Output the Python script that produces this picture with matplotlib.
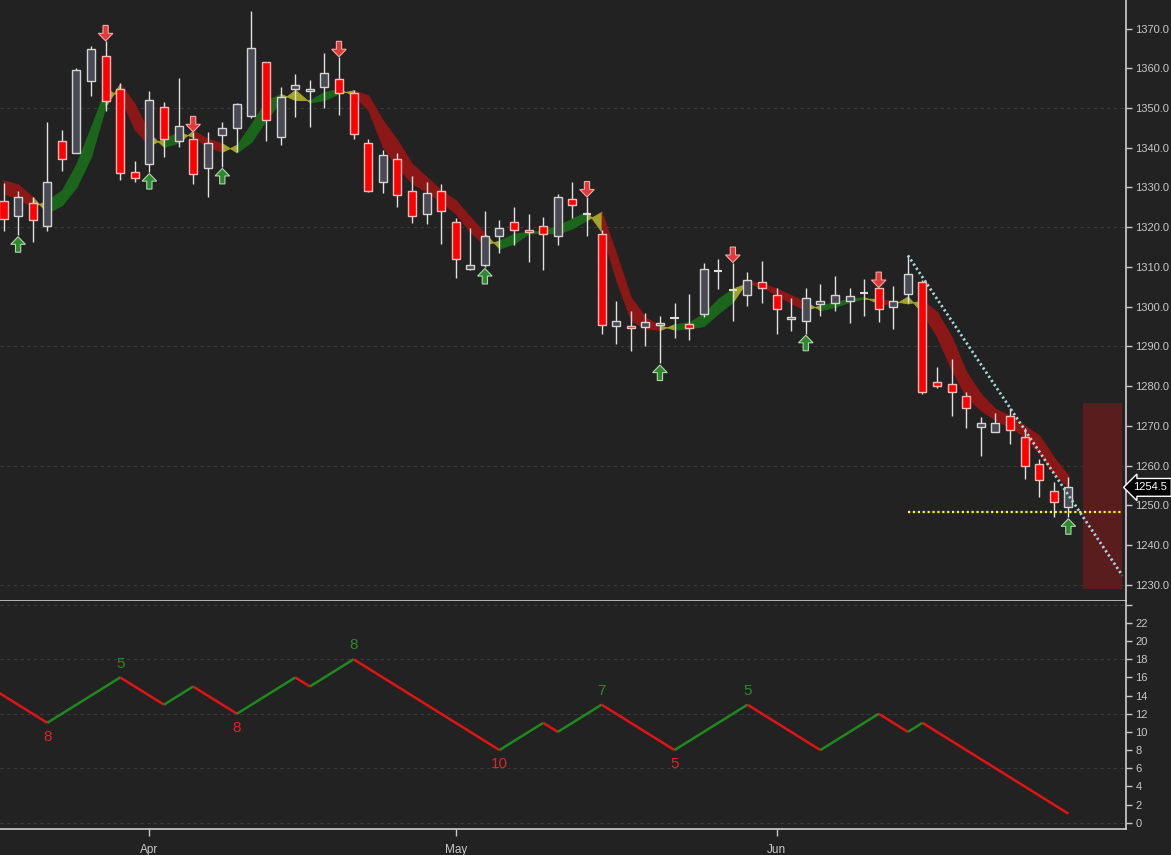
import matplotlib.pyplot as plt
import matplotlib.transforms as mtransforms
from matplotlib.patches import Rectangle, FancyArrow

plt.rcParams['font.family'] = ['Liberation Sans', 'DejaVu Sans']

# daily OHLC, one entry per bar
opens = [1326.5, 1322.7, 1326.2, 1320.2, 1341.6, 1338.7, 1356.7, 1363.2, 1354.7, 1333.8,
         1335.8, 1350.2, 1341.8, 1342.1, 1334.8, 1343.1, 1344.9, 1348.0, 1361.5, 1342.6,
         1354.9, 1354.3, 1355.4, 1357.4, 1353.7, 1341.3, 1331.3, 1337.1, 1329.2, 1323.2,
         1329.0, 1321.2, 1309.6, 1310.6, 1317.9, 1321.4, 1319.2, 1320.3, 1317.9, 1327.0,
         1323.3, 1318.2, 1295.2, 1295.2, 1295.0, 1295.5, 1297.2, 1295.7, 1298.2, 1309.0,
         1304.1, 1303.0, 1306.1, 1303.0, 1296.8, 1296.5, 1300.7, 1301.0, 1301.3, 1303.4,
         1304.6, 1299.8, 1303.3, 1306.1, 1281.0, 1280.5, 1277.4, 1269.8, 1268.4, 1272.4,
         1267.2, 1260.4, 1253.6, 1249.6]
highs = [1331.2, 1329.1, 1327.6, 1346.4, 1344.4, 1360.0, 1365.6, 1366.9, 1356.2, 1336.6,
         1354.3, 1351.6, 1357.5, 1344.0, 1343.9, 1346.5, 1351.3, 1374.4, 1361.6, 1355.2,
         1358.5, 1357.0, 1363.9, 1362.9, 1354.5, 1342.3, 1339.4, 1338.6, 1332.8, 1331.3,
         1330.8, 1322.2, 1319.7, 1324.0, 1321.8, 1325.0, 1323.4, 1322.6, 1328.3, 1331.3,
         1327.6, 1319.2, 1301.4, 1298.8, 1298.5, 1297.6, 1300.8, 1303.3, 1311.1, 1312.1,
         1311.1, 1308.7, 1311.4, 1304.6, 1302.1, 1304.6, 1305.8, 1307.7, 1304.6, 1306.9,
         1304.8, 1305.1, 1312.9, 1306.6, 1284.8, 1286.7, 1278.4, 1272.2, 1273.1, 1274.5,
         1269.4, 1261.7, 1255.8, 1257.1]
lows = [1319.1, 1318.0, 1316.3, 1319.1, 1334.2, 1338.6, 1353.0, 1349.3, 1331.8, 1331.3,
        1333.9, 1337.7, 1340.2, 1331.0, 1327.6, 1335.2, 1339.0, 1347.6, 1341.7, 1340.6,
        1347.8, 1345.3, 1350.0, 1348.2, 1342.1, 1328.8, 1328.6, 1325.1, 1321.1, 1320.8,
        1315.8, 1307.2, 1309.3, 1310.0, 1313.6, 1315.6, 1311.3, 1309.3, 1315.6, 1322.2,
        1317.9, 1293.2, 1290.7, 1288.9, 1290.2, 1285.7, 1292.1, 1291.7, 1297.3, 1304.4,
        1296.4, 1300.2, 1300.9, 1293.1, 1293.9, 1293.2, 1297.7, 1298.9, 1295.9, 1297.7,
        1296.1, 1294.4, 1300.9, 1277.9, 1279.6, 1272.5, 1269.4, 1262.4, 1268.4, 1265.5,
        1256.5, 1252.1, 1247.0, 1247.0]
closes = [1322.0, 1327.5, 1321.7, 1331.3, 1337.1, 1359.7, 1364.8, 1351.7, 1333.7, 1332.5,
          1351.9, 1342.3, 1345.4, 1333.5, 1341.1, 1345.1, 1350.9, 1365.0, 1347.1, 1352.9,
          1355.9, 1354.8, 1358.7, 1353.9, 1343.4, 1329.0, 1338.1, 1328.0, 1322.9, 1328.5,
          1324.2, 1311.9, 1310.6, 1317.9, 1319.7, 1319.2, 1318.7, 1318.2, 1327.5, 1325.7,
          1323.3, 1295.4, 1296.5, 1294.5, 1296.2, 1296.0, 1297.2, 1294.7, 1309.6, 1309.0,
          1304.1, 1306.6, 1304.8, 1299.3, 1297.3, 1302.3, 1301.5, 1303.0, 1302.8, 1303.4,
          1299.5, 1301.3, 1308.3, 1278.5, 1280.1, 1278.5, 1274.6, 1270.6, 1270.7, 1268.9,
          1259.9, 1256.3, 1250.9, 1254.5]

# trend ribbon: fast and slow average
fast_line = [1328.5, 1327.2, 1325.1, 1326.8, 1329.3, 1336.0, 1345.3, 1355.0, 1352.8, 1344.5,
             1340.6, 1342.3, 1344.0, 1342.7, 1340.2, 1339.0, 1340.8, 1346.1, 1351.9, 1353.6,
             1352.0, 1352.0, 1354.1, 1354.8, 1353.2, 1349.5, 1340.2, 1335.2, 1331.0, 1328.9,
             1326.4, 1323.4, 1318.8, 1315.5, 1316.7, 1318.4, 1318.9, 1319.2, 1320.5, 1322.2,
             1324.0, 1318.8, 1306.7, 1296.6, 1294.5, 1294.1, 1295.6, 1296.1, 1298.3, 1302.0,
             1304.6, 1305.9, 1305.0, 1302.9, 1300.8, 1299.1, 1300.4, 1301.2, 1302.0, 1302.4,
             1300.8, 1300.4, 1302.6, 1298.3, 1292.4, 1284.0, 1277.3, 1273.9, 1271.4, 1269.7,
             1267.2, 1263.0, 1258.0, 1254.6]
slow_line = [1331.8, 1330.8, 1327.6, 1323.6, 1325.5, 1330.1, 1337.7, 1350.5, 1356.2, 1351.0,
             1343.6, 1340.2, 1341.3, 1344.4, 1342.3, 1341.1, 1338.8, 1341.5, 1347.0, 1351.8,
             1354.6, 1351.4, 1352.0, 1353.7, 1354.5, 1353.2, 1347.0, 1341.9, 1336.0, 1332.7,
             1329.3, 1326.8, 1322.6, 1318.4, 1314.6, 1315.9, 1318.4, 1318.6, 1318.4, 1319.7,
             1321.8, 1323.9, 1313.4, 1302.4, 1297.4, 1295.3, 1294.2, 1294.5, 1295.1, 1298.3,
             1301.2, 1306.6, 1305.8, 1304.6, 1302.9, 1301.2, 1299.1, 1299.9, 1301.2, 1302.0,
             1302.0, 1301.4, 1300.8, 1301.6, 1298.7, 1292.4, 1283.6, 1278.1, 1274.3, 1272.6,
             1270.1, 1267.6, 1262.1, 1257.5]

buy_signals = [1, 10, 15, 33, 45, 55, 73]
sell_signals = [7, 13, 23, 40, 50, 60]

# swing counter (lower panel) pivots
swing_idx = [-5, 3, 8, 11, 13, 16, 20, 21, 24, 34, 37, 38, 41, 46, 51, 56, 60, 62, 63, 73]
swing_val = [19, 11, 16, 13, 15, 12, 16, 15, 18, 8, 11, 10, 13, 8, 13, 8, 12, 10, 11, 1]
swing_labels = [(3, '8', 'low'), (8, '5', 'high'), (16, '8', 'low'), (24, '8', 'high'),
                (34, '10', 'low'), (41, '7', 'high'), (46, '5', 'low'), (51, '5', 'high')]

month_ticks = [10, 31, 53]
month_labels = ['Apr', 'May', 'Jun']

trend_x = [62, 76.7]
trend_y = [1312.9, 1232.3]
support_level = 1248.3
support_from = 62
zone_x = [74.0, 76.7]
zone_y = [1228.9, 1275.7]
last_price = 1254.5

BG = '#222222'
AXC = '#d0d0d0'
TXT = '#c8c8c8'
GREEN_BAND = '#1b661b'
RED_BAND = '#8c1717'
YELLOW_BAND = '#a3a32a'

fig = plt.figure(figsize=(11.71, 8.55), dpi=100, facecolor=BG)
ax1 = fig.add_axes([0, 0.2971, 0.9613, 0.7029], facecolor=BG)
ax2 = fig.add_axes([0, 0.0304, 0.9613, 0.2667], facecolor=BG, sharex=ax1)

n = len(closes)

# ribbon
for i in range(n - 1):
    d0 = fast_line[i] - slow_line[i]
    d1 = fast_line[i + 1] - slow_line[i + 1]
    if d0 * d1 < 0:
        c = YELLOW_BAND
    elif d0 > 0:
        c = GREEN_BAND
    else:
        c = RED_BAND
    ax1.fill_between([i, i + 1], [fast_line[i], fast_line[i + 1]],
                     [slow_line[i], slow_line[i + 1]], color=c, lw=0.6, zorder=1)

# candles
bw = 0.55
for i in range(n):
    o, h, l, c = opens[i], highs[i], lows[i], closes[i]
    ax1.vlines(i, l, h, color='#e0e0e0', lw=1, zorder=3)
    if c < o:
        fc, ec = '#ff0000', '#ffb8b8'
    else:
        fc, ec = '#4a4a54', '#d4d4d4'
    if abs(c - o) < 0.05:
        ax1.hlines(o, i - bw / 2, i + bw / 2, color='#dcdcdc', lw=1.5, zorder=4)
    else:
        ax1.add_patch(Rectangle((i - bw / 2, min(o, c)), bw, abs(c - o),
                                facecolor=fc, edgecolor=ec, lw=1, zorder=4))

# signal arrows
for i in sell_signals:
    ax1.add_patch(FancyArrow(i, highs[i] + 3.9, 0, -3.9, width=0.36, head_width=1.0,
                             head_length=1.9, length_includes_head=True,
                             facecolor='#e23a3a', edgecolor='#f2a8a8', lw=0.8, zorder=5))
for i in buy_signals:
    ax1.add_patch(FancyArrow(i, lows[i] - 4.3, 0, 3.9, width=0.36, head_width=1.0,
                             head_length=1.9, length_includes_head=True,
                             facecolor='#2c8a2c', edgecolor='#b4d4b4', lw=0.8, zorder=5))

# target zone, trendline, support
ax1.add_patch(Rectangle((zone_x[0], zone_y[0]), zone_x[1] - zone_x[0], zone_y[1] - zone_y[0],
                        facecolor='#5a1d1d', edgecolor='none', zorder=0.5))
ax1.plot(trend_x, trend_y, color='#a8d4d8', lw=2, ls=(0, (0.8, 1.0)), zorder=6)
ax1.plot([support_from, zone_x[1]], [support_level, support_level], color='#ffff00',
         lw=1.6, ls=(0, (1, 1.2)), zorder=6)

# grids
for g in range(1230, 1381, 30):
    ax1.axhline(g, color='#3a3a3a', lw=0.8, ls=(0, (3, 3)), zorder=0)
for g in range(0, 25, 6):
    ax2.axhline(g, color='#3a3a3a', lw=0.8, ls=(0, (3, 3)), zorder=0)

ax1.set_ylim(1225.9, 1377.2)
ax1.set_xlim(-0.24, 76.93)
ax1.yaxis.tick_right()
ax1.set_yticks(range(1230, 1371, 10))
ax1.set_yticklabels(['%.1f' % v for v in range(1230, 1371, 10)])
ax1.tick_params(axis='y', colors=TXT, labelcolor=TXT, length=4, width=1,
                labelsize=8, pad=3)
ax1.tick_params(axis='x', bottom=False, labelbottom=False)
for s in ['top', 'left']:
    ax1.spines[s].set_visible(False)
for s in ['right', 'bottom']:
    ax1.spines[s].set_color(AXC)
    ax1.spines[s].set_linewidth(1.2)

# last price tag
blend = mtransforms.blended_transform_factory(ax1.transAxes, ax1.transData)
ax1.text(1.007, last_price, '%.1f' % last_price, transform=blend, ha='left', va='center',
         color='white', fontsize=8, clip_on=False, zorder=10,
         bbox=dict(boxstyle='larrow,pad=0.35', facecolor='black', edgecolor='white', lw=1))

# lower panel: swing counter
for j in range(len(swing_idx) - 1):
    c = '#1e8a1e' if swing_val[j + 1] > swing_val[j] else '#e01414'
    ax2.plot(swing_idx[j:j + 2], swing_val[j:j + 2], color=c, lw=1.8,
             solid_capstyle='butt', zorder=3)
for idx, txt, kind in swing_labels:
    v = swing_val[swing_idx.index(idx)]
    if kind == 'low':
        ax2.annotate(txt, (idx, v), xytext=(0, -10), textcoords='offset points',
                     ha='center', va='center', color='#e02424', fontsize=11)
    else:
        ax2.annotate(txt, (idx, v), xytext=(0, 10), textcoords='offset points',
                     ha='center', va='center', color='#2a8a2a', fontsize=11)

ax2.set_ylim(-0.69, 24.42)
ax2.yaxis.tick_right()
ax2.set_yticks(range(0, 25, 2))
ax2.set_yticklabels([str(v) if v < 24 else '' for v in range(0, 25, 2)])
ax2.tick_params(axis='y', colors=TXT, labelcolor=TXT, length=4, width=1,
                labelsize=8, pad=3)
ax2.set_xticks(month_ticks)
ax2.set_xticklabels(month_labels)
ax2.tick_params(axis='x', colors=TXT, labelcolor=TXT, length=5, width=1,
                labelsize=8.5, pad=6)
for s in ['top', 'left']:
    ax2.spines[s].set_visible(False)
for s in ['right', 'bottom']:
    ax2.spines[s].set_color(AXC)
    ax2.spines[s].set_linewidth(1.2)

fig.savefig('out.png', dpi=100, facecolor=BG)
